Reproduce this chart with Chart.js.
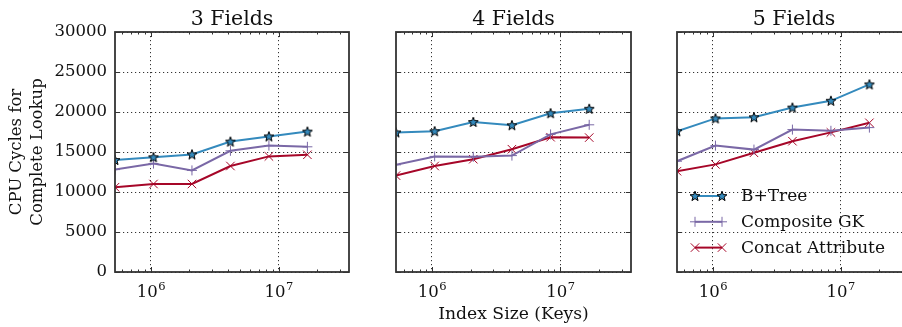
<!DOCTYPE html>
<html>
<head>
<meta charset="utf-8">
<script src="https://cdn.jsdelivr.net/npm/chart.js@4/dist/chart.umd.min.js"></script>
<style>
  html, body { margin: 0; padding: 0; background: #fff; overflow: hidden; }
  body { width: 902px; height: 327px; position: relative; }
  canvas { position: absolute; top: 0; }
</style>
</head>
<body>
<canvas id="c1" width="360" height="327" style="left:0px"></canvas>
<canvas id="c2" width="300" height="327" style="left:340px"></canvas>
<canvas id="c3" width="300" height="327" style="left:620px"></canvas>
<script>
// Index sizes (keys): 2^19 .. 2^24
const sizes = [524288, 1048576, 2097152, 4194304, 8388608, 16777216];
const panelTitles = ["3 Fields", "4 Fields", "5 Fields"];
const seriesNames = ["B+Tree", "Composite GK", "Concat Attribute"];

// CPU cycles
const btree3 = [14000, 14350, 14700, 16300, 16950, 17550];
const gk3 = [12800, 13550, 12700, 15150, 15800, 15650];
const concat3 = [10600, 11000, 11000, 13250, 14450, 14650];

const btree4 = [17450, 17600, 18750, 18350, 19850, 20400];
const gk4 = [13400, 14450, 14400, 14550, 17200, 18400];
const concat4 = [12050, 13250, 14100, 15350, 16850, 16800];

const btree5 = [17600, 19200, 19350, 20550, 21400, 23450];
const gk5 = [13850, 15800, 15300, 17800, 17650, 18050];
const concat5 = [12600, 13450, 14900, 16350, 17450, 18650];

// Axis ticks
const xMajorTicks = [1e6, 1e7];
const xMinorTicks = [6e5, 7e5, 8e5, 9e5, 2e6, 3e6, 4e6, 5e6, 6e6, 7e6, 8e6, 9e6, 2e7, 3e7];
const yTicks = [0, 5000, 10000, 15000, 20000, 25000, 30000];
const xMin = 524288, xMax = 3.55e7;

const FONT = "'DejaVu Serif', 'Liberation Serif', serif";
const colors = ["#348ABD", "#7A68A6", "#A60628"];

// Star marker drawn once, used as pointStyle
function makeStar(fill) {
  const c = document.createElement("canvas");
  c.width = 12;
  c.height = 12;
  const g = c.getContext("2d");
  g.beginPath();
  for (let i = 0; i < 10; i++) {
    const r = i % 2 === 0 ? 5.2 : 2.2;
    const a = -Math.PI / 2 + (i * Math.PI) / 5;
    const px = 6 + r * Math.cos(a);
    const py = 6.4 + r * Math.sin(a);
    if (i === 0) g.moveTo(px, py);
    else g.lineTo(px, py);
  }
  g.closePath();
  g.fillStyle = fill;
  g.fill();
  g.lineWidth = 1;
  g.strokeStyle = "#000";
  g.stroke();
  return c;
}
const starImg = makeStar(colors[0]);

function makeDatasets(b, g, c) {
  const vals = [b, g, c];
  const styles = [starImg, "cross", "crossRot"];
  const radii = [5, 5, 6];
  return vals.map((v, i) => ({
    label: seriesNames[i],
    data: sizes.map((s, k) => ({ x: s, y: v[k] })),
    borderColor: colors[i],
    backgroundColor: colors[i],
    borderWidth: 2,
    pointStyle: styles[i],
    pointRadius: radii[i],
    pointBorderWidth: 1,
    pointBorderColor: colors[i],
    pointBackgroundColor: colors[i],
    tension: 0,
    clip: 0,
  }));
}

// Frame, inward tick marks, panel title and 10^n labels (matplotlib look)
const framePlugin = {
  id: "frame",
  afterDraw(chart, args, opts) {
    const { ctx, chartArea: a } = chart;
    const xs = chart.scales.x, ys = chart.scales.y;
    ctx.save();
    ctx.strokeStyle = "#333";
    ctx.lineWidth = 1;
    ctx.beginPath();
    xMajorTicks.forEach((v) => {
      const px = Math.round(xs.getPixelForValue(v)) + 0.5;
      ctx.moveTo(px, a.bottom); ctx.lineTo(px, a.bottom - 5);
      ctx.moveTo(px, a.top); ctx.lineTo(px, a.top + 5);
    });
    xMinorTicks.forEach((v) => {
      const px = Math.round(xs.getPixelForValue(v)) + 0.5;
      ctx.moveTo(px, a.bottom); ctx.lineTo(px, a.bottom - 2.5);
      ctx.moveTo(px, a.top); ctx.lineTo(px, a.top + 2.5);
    });
    yTicks.forEach((v) => {
      const py = Math.round(ys.getPixelForValue(v)) + 0.5;
      ctx.moveTo(a.left, py); ctx.lineTo(a.left + 5, py);
      ctx.moveTo(a.right, py); ctx.lineTo(a.right - 5, py);
    });
    ctx.stroke();
    ctx.lineWidth = 1.8;
    ctx.strokeRect(a.left, a.top, a.right - a.left, a.bottom - a.top);

    // panel title, centred over the plot area
    ctx.fillStyle = "#111";
    ctx.font = "20.5px " + FONT;
    ctx.textAlign = "center";
    ctx.textBaseline = "middle";
    ctx.fillText(opts.title, (a.left + a.right) / 2, 19.3);

    // x tick labels with a real superscript
    ctx.textBaseline = "alphabetic";
    ctx.textAlign = "left";
    xMajorTicks.forEach((v) => {
      const base = "10", exp = String(Math.round(Math.log10(v)));
      ctx.font = "16.5px " + FONT;
      const wb = ctx.measureText(base).width;
      ctx.font = "11.5px " + FONT;
      const we = ctx.measureText(exp).width;
      const x0 = xs.getPixelForValue(v) - (wb + we) / 2;
      const y0 = a.bottom + 25;
      ctx.font = "16.5px " + FONT;
      ctx.fillText(base, x0, y0);
      ctx.font = "11.5px " + FONT;
      ctx.fillText(exp, x0 + wb + 0.5, y0 - 7);
    });
    ctx.restore();
  },
};

function drawMarker(ctx, style, r, x, y, color) {
  if (style === starImg) {
    ctx.drawImage(starImg, x - 6, y - 6);
    return;
  }
  ctx.strokeStyle = color;
  ctx.lineWidth = 1;
  ctx.beginPath();
  if (style === "cross") {
    ctx.moveTo(x - r, y); ctx.lineTo(x + r, y);
    ctx.moveTo(x, y - r); ctx.lineTo(x, y + r);
  } else {
    const d = r * Math.SQRT1_2;
    ctx.moveTo(x - d, y - d); ctx.lineTo(x + d, y + d);
    ctx.moveTo(x - d, y + d); ctx.lineTo(x + d, y - d);
  }
  ctx.stroke();
}

// Legend inside the last panel, no box
const legendPlugin = {
  id: "innerLegend",
  afterDraw(chart) {
    const { ctx, chartArea: a } = chart;
    ctx.save();
    chart.data.datasets.forEach((ds, i) => {
      const y = a.top + 164 + i * 25.8;
      const x0 = a.left + 18, x1 = a.left + 45;
      ctx.strokeStyle = ds.borderColor;
      ctx.lineWidth = 2;
      ctx.beginPath();
      ctx.moveTo(x0, y); ctx.lineTo(x1, y);
      ctx.stroke();
      drawMarker(ctx, ds.pointStyle, ds.pointRadius, x0, y, ds.borderColor);
      drawMarker(ctx, ds.pointStyle, ds.pointRadius, x1, y, ds.borderColor);
      ctx.fillStyle = "#111";
      ctx.font = "17px " + FONT;
      ctx.textBaseline = "middle";
      ctx.textAlign = "left";
      ctx.fillText(ds.label, a.left + 64, y + 1);
    });
    ctx.restore();
  },
};

function makeChart(id, idx, datasets, opts) {
  const plugins = [framePlugin];
  if (opts.legend) plugins.push(legendPlugin);
  return new Chart(document.getElementById(id), {
    type: "line",
    data: { datasets: datasets },
    plugins: plugins,
    options: {
      responsive: false,
      animation: false,
      layout: { padding: { left: 0, right: opts.padRight, top: 32, bottom: 0 } },
      plugins: {
        legend: { display: false },
        tooltip: { enabled: false },
        title: { display: false },
        frame: { title: panelTitles[idx] },
      },
      scales: {
        x: {
          type: "logarithmic",
          min: xMin,
          max: xMax,
          afterBuildTicks: (scale) => {
            scale.ticks = xMajorTicks.map((v) => ({ value: v }));
          },
          afterFit: (scale) => { scale.height = 55; },
          grid: { color: "#000", lineWidth: 0.8, drawTicks: false },
          border: { display: false, dash: [1.2, 2.8] },
          ticks: { display: false },
          title: {
            display: !!opts.xTitle,
            text: "Index Size (Keys)",
            color: "#111",
            font: { family: FONT, size: 17.2 },
            padding: { top: 0, bottom: 2 },
          },
        },
        y: {
          min: 0,
          max: 30000,
          afterBuildTicks: (scale) => {
            scale.ticks = yTicks.map((v) => ({ value: v }));
          },
          afterFit: (scale) => { scale.width = opts.yWidth; },
          grid: { color: "#000", lineWidth: 0.8, drawTicks: false },
          border: { display: false, dash: [1.2, 2.8] },
          ticks: {
            display: !!opts.yLabels,
            color: "#111",
            font: { family: FONT, size: 16.5 },
            padding: 8,
            callback: (v) => String(v),
          },
          title: {
            display: !!opts.yTitle,
            text: ["CPU Cycles for", "Complete Lookup"],
            color: "#111",
            font: { family: FONT, size: 16.5, lineHeight: 1.3 },
            padding: { top: 6, bottom: 0 },
          },
        },
      },
    },
  });
}

makeChart("c1", 0, makeDatasets(btree3, gk3, concat3), { yWidth: 115, padRight: 11, yLabels: true, yTitle: true });
makeChart("c2", 1, makeDatasets(btree4, gk4, concat4), { yWidth: 56, padRight: 9, xTitle: true });
makeChart("c3", 2, makeDatasets(btree5, gk5, concat5), { yWidth: 57, padRight: 9, legend: true });
</script>
</body>
</html>
